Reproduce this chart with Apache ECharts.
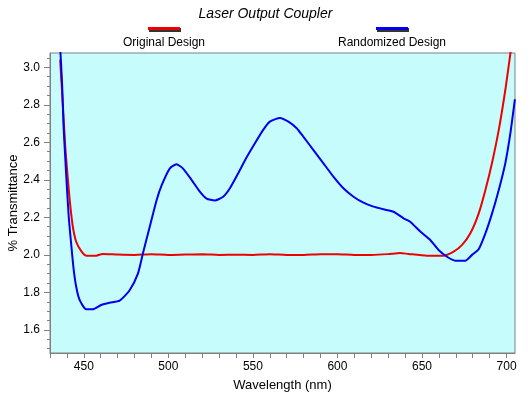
<!DOCTYPE html>
<html lang="en">
<head>
    <meta charset="UTF-8">
    <title>Laser Output Coupler</title>
    <script src="https://cdn.jsdelivr.net/npm/echarts@6/dist/echarts.min.js"></script>
    <style>
        html, body { margin: 0; padding: 0; background: #fff; }
    </style>
</head>
<body>
<div id="main" style="width: 531px;height:397px;"></div>
<script>
    var titleText = 'Laser Output Coupler';
    var seriesNames = ['Original Design', 'Randomized Design'];

    // wavelength (nm), value (% transmittance)
    var originalData = [
        [436, 3.04], [437.6, 2.80], [439, 2.58], [440.5, 2.41], [441.9, 2.27],
        [443.5, 2.15], [445.5, 2.07], [448.5, 2.02], [451.4, 1.996], [457.4, 1.996],
        [461, 2.005], [470, 2.002], [480, 2.0], [490, 2.003], [500, 2.0],
        [510, 2.002], [520, 2.003], [530, 2.0], [540, 2.001], [550, 2.0],
        [560, 2.003], [570, 2.0], [580, 2.0], [590, 2.003], [600, 2.003],
        [610, 2.0], [620, 2.0], [630, 2.004], [637, 2.01], [642, 2.005],
        [652.9, 1.996], [662.8, 1.996], [668.7, 2.017], [673.7, 2.053], [678.6, 2.115],
        [683.5, 2.22], [687.5, 2.346], [691.4, 2.49], [695.4, 2.666], [699.3, 2.88],
        [702.3, 3.075], [703, 3.12]
    ];
    var randomizedData = [
        [436, 3.10], [436.2, 3.075], [437.2, 2.90], [438, 2.69], [439, 2.52],
        [440, 2.36], [441.1, 2.20], [442.5, 2.06], [443.9, 1.93], [445.5, 1.83],
        [447.5, 1.76], [451.4, 1.71], [455.3, 1.71], [460.3, 1.733], [465.2, 1.745],
        [471.2, 1.756], [477, 1.81], [482, 1.90], [485, 2.01], [489, 2.15],
        [493, 2.29], [496, 2.37], [500.8, 2.46], [504.8, 2.483], [508.7, 2.46],
        [513.7, 2.40], [518.6, 2.337], [522.6, 2.30], [527.5, 2.29], [532.4, 2.31],
        [536.4, 2.355], [541.3, 2.435], [546.3, 2.52], [551.2, 2.595], [556.1, 2.666],
        [560, 2.71], [566, 2.73], [571, 2.71], [575.9, 2.675], [579.8, 2.63],
        [585.7, 2.56], [591.7, 2.488], [597.6, 2.417], [603.5, 2.355], [609.5, 2.31],
        [615.4, 2.278], [621.3, 2.257], [627.2, 2.243], [633.2, 2.23], [639.1, 2.195],
        [643, 2.177], [649, 2.124], [654.9, 2.079], [659.8, 2.026], [664.8, 1.99],
        [669.7, 1.969], [675.6, 1.969], [679.6, 2.0], [683.5, 2.03], [687.5, 2.115],
        [691.4, 2.22], [695.4, 2.346], [699.3, 2.49], [702.3, 2.65], [704.9, 2.826],
        [705, 2.83]
    ];

    var xLabels = [450, 500, 550, 600, 650, 700];
    var xTicks = [430, 440, 450, 460, 470, 480, 490, 500, 510, 520, 530, 540, 550, 560, 570,
        580, 590, 600, 610, 620, 630, 640, 650, 660, 670, 680, 690, 700];
    var yLabels = [1.6, 1.8, 2.0, 2.2, 2.4, 2.6, 2.8, 3.0];
    var yMinorTicks = [1.5, 1.55, 1.65, 1.7, 1.75, 1.85, 1.9, 1.95, 2.05, 2.1, 2.15, 2.25, 2.3,
        2.35, 2.45, 2.5, 2.55, 2.65, 2.7, 2.75, 2.85, 2.9, 2.95, 3.05];

    var myChart = echarts.init(document.getElementById('main'));
    var font = 'Liberation Sans, Arial, sans-serif';

    var option = {
        animation: false,
        title: {
            text: titleText,
            left: 'center',
            top: 2,
            textStyle: {fontFamily: font, fontSize: 14, fontStyle: 'italic', fontWeight: 'normal', color: '#000'}
        },
        grid: {left: 50, right: 16, top: 53, bottom: 44, show: true, outerBoundsMode: 'none',
            containLabel: false,
            backgroundColor: '#c6fcfc', borderColor: '#808080', borderWidth: 1},
        xAxis: {
            type: 'value', min: 430, max: 705,
            name: 'Wavelength (nm)', nameLocation: 'middle', nameGap: 26, nameMoveOverlap: false,
            nameTextStyle: {fontFamily: font, fontSize: 13, color: '#000'},
            axisLine: {lineStyle: {color: '#808080'}},
            axisTick: {customValues: xTicks, length: 5, lineStyle: {color: '#808080'}},
            axisLabel: {customValues: xLabels, fontFamily: font, fontSize: 12, color: '#000', margin: 8},
            splitLine: {show: false}
        },
        yAxis: [{
            type: 'value', min: 1.477, max: 3.076,
            name: '% Transmittance', nameLocation: 'middle', nameGap: 30, nameMoveOverlap: false,
            nameTextStyle: {fontFamily: font, fontSize: 13, color: '#000'},
            axisLine: {show: true, lineStyle: {color: '#808080'}},
            axisTick: {customValues: yLabels, length: 6, lineStyle: {color: '#808080'}},
            axisLabel: {customValues: yLabels, fontFamily: font, fontSize: 12, color: '#000', margin: 10,
                formatter: function (v) { return v.toFixed(1); }},
            splitLine: {show: false}
        }, {
            type: 'value', min: 1.477, max: 3.076, position: 'left',
            axisLine: {show: false},
            axisTick: {customValues: yMinorTicks, length: 3, lineStyle: {color: '#808080'}},
            axisLabel: {show: false},
            splitLine: {show: false}
        }],
        series: [{
            name: seriesNames[0], type: 'line', data: originalData, showSymbol: false, smooth: 0.2,
            clip: true, lineStyle: {color: '#ee0000', width: 2}, z: 2
        }, {
            name: seriesNames[1], type: 'line', data: randomizedData, showSymbol: false, smooth: 0.2,
            clip: true, lineStyle: {color: '#0000ee', width: 2}, z: 3
        }],
        graphic: [
            {type: 'rect', shape: {x: 149, y: 28, width: 32, height: 4}, style: {fill: '#333'}},
            {type: 'rect', shape: {x: 148, y: 27, width: 32, height: 3}, style: {fill: '#ee0000'}},
            {type: 'text', x: 164, y: 37, style: {text: seriesNames[0], align: 'center',
                font: '12px ' + font, fill: '#000'}},
            {type: 'rect', shape: {x: 377, y: 28, width: 32, height: 4}, style: {fill: '#333'}},
            {type: 'rect', shape: {x: 376, y: 27, width: 32, height: 3}, style: {fill: '#0000ee'}},
            {type: 'text', x: 392, y: 37, style: {text: seriesNames[1], align: 'center',
                font: '12px ' + font, fill: '#000'}}
        ]
    };
    myChart.setOption(option);
</script>
</body>
</html>
